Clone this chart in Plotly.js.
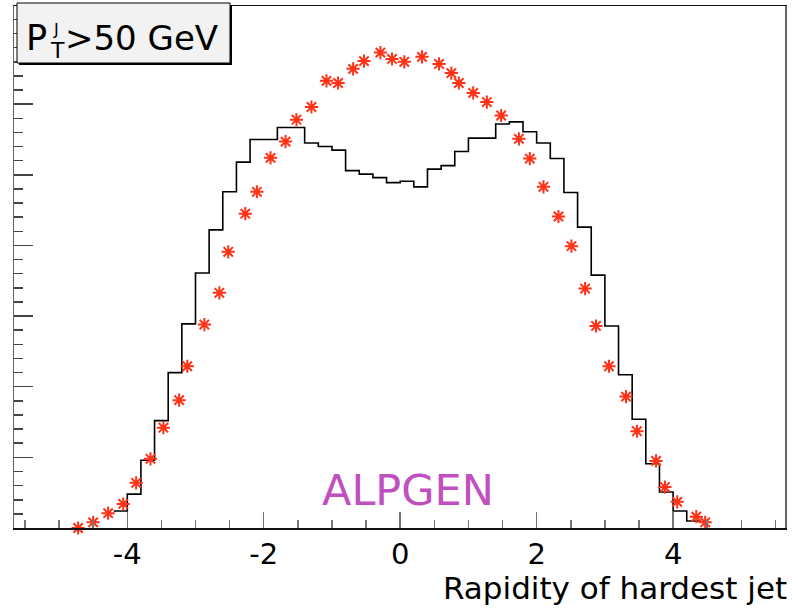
<!DOCTYPE html>
<html>
<head>
<meta charset="utf-8">
<script src="https://cdn.plot.ly/plotly-3.0.1.min.js"></script>
<style>html,body{margin:0;padding:0;background:#fff;}#chart{width:793px;height:609px;}</style>
</head>
<body>
<div id="chart"></div>
<script>
// Histogram (black): bin edges and bin contents
const binEdges = [-4.2,-4.0,-3.8,-3.6,-3.4,-3.2,-3.0,-2.8,-2.6,-2.4,-2.2,-2.0,-1.8,-1.6,-1.4,-1.2,-1.0,-0.8,-0.6,-0.4,-0.2,0.0,
                  0.2,0.4,0.6,0.8,1.0,1.2,1.4,1.6,1.8,2.0,2.2,2.4,2.6,2.8,3.0,3.2,3.4,3.6,3.8,4.0,4.2,4.4];
const histValues = [0.24,0.48,0.96,1.52,2.20,2.89,3.61,4.22,4.76,5.18,5.50,5.50,5.67,5.67,5.45,5.40,5.35,5.06,5.01,4.96,4.89,
                    4.91,4.83,5.08,5.13,5.33,5.52,5.52,5.72,5.75,5.61,5.45,5.23,4.75,4.26,3.58,2.86,2.17,1.54,0.91,0.51,0.24,0.10];

// Red star points
const starX = [-4.72,-4.50,-4.28,-4.06,-3.87,-3.66,-3.47,-3.24,-3.12,-2.87,-2.65,-2.52,-2.27,-2.10,-1.90,-1.68,-1.52,-1.30,
               -1.08,-0.91,-0.69,-0.53,-0.29,-0.12,0.06,0.32,0.57,0.75,0.86,1.07,1.27,1.48,1.74,1.90,2.10,2.32,2.51,2.71,
               2.87,3.06,3.31,3.47,3.75,3.88,4.06,4.34,4.47];
const starY = [0.00,0.08,0.21,0.34,0.64,0.98,1.42,1.81,2.29,2.88,3.33,3.91,4.45,4.76,5.24,5.47,5.78,5.96,
               6.33,6.30,6.50,6.61,6.73,6.64,6.60,6.67,6.57,6.44,6.30,6.16,6.03,5.84,5.51,5.23,4.83,4.41,3.99,3.39,
               2.86,2.29,1.86,1.37,0.95,0.58,0.37,0.16,0.08];

const xTickVals = [-4,-2,0,2,4];
const xTickText = ['-4','-2','0','2','4'];
const xTitle = 'Rapidity of hardest jet';
const generatorLabel = 'ALPGEN';

// build step line from histogram
const hx = [], hy = [];
for (let i = 0; i < histValues.length; i++) {
  hx.push(binEdges[i], binEdges[i+1]);
  hy.push(histValues[i], histValues[i]);
}

// pixel helpers for decorations (plot area: x 14..785, y 6..528)
const L = 14, W = 771, B = 528, H = 522;
const px = p => (p - L) / W;
const py = p => (B - p) / H;
const FONT = 'DejaVu Sans, Liberation Sans, Arial, sans-serif';

const traces = [
  {x: hx, y: hy, type: 'scatter', mode: 'lines',
   line: {color: '#000', width: 1.6}, hoverinfo: 'skip', showlegend: false},
  {x: starX, y: starY, type: 'scatter', mode: 'markers', cliponaxis: false,
   marker: {symbol: 'asterisk-open', size: 11, color: '#ff3218', line: {color: '#ff3218', width: 2}},
   showlegend: false}
];

const layout = {
  width: 793, height: 609,
  margin: {l: 14, r: 8, t: 6, b: 81, pad: 0},
  paper_bgcolor: '#fff', plot_bgcolor: '#fff',
  showlegend: false,
  font: {family: FONT, color: '#000'},
  xaxis: {
    range: [-5.66, 5.64], showgrid: false, zeroline: false,
    showline: true, linecolor: '#111', linewidth: 1.5, mirror: true,
    ticks: 'inside', ticklen: 16, tickwidth: 1.5, tickcolor: '#777',
    tickmode: 'array', tickvals: xTickVals, ticktext: xTickText,
    tickfont: {family: FONT, size: 29, color: '#000'},
    minor: {dtick: 0.5, tick0: 0, ticks: 'inside', ticklen: 8, tickwidth: 1.5, tickcolor: '#777', showgrid: false}
  },
  yaxis: {
    range: [0, 7.39], showgrid: false, zeroline: false,
    showline: true, linecolor: '#666', linewidth: 1.5, mirror: true,
    ticks: 'inside', ticklen: 19, tickwidth: 1.5, tickcolor: '#444',
    dtick: 1, tick0: 0, showticklabels: false,
    minor: {dtick: 0.2, tick0: 0, ticks: 'inside', ticklen: 9, tickwidth: 1.5, tickcolor: '#444', showgrid: false}
  },
  shapes: [
    {type: 'rect', xref: 'paper', yref: 'paper', x0: px(19), x1: px(232), y0: py(65), y1: py(5),
     fillcolor: '#000', line: {width: 0}, layer: 'above'},
    {type: 'rect', xref: 'paper', yref: 'paper', x0: px(17), x1: px(230), y0: py(63), y1: py(3),
     fillcolor: '#f2f2f2', line: {color: '#000', width: 1}, layer: 'above'}
  ],
  annotations: [
    {text: 'P', xref: 'paper', yref: 'paper', x: px(24), y: py(38), xanchor: 'left', yanchor: 'middle',
     showarrow: false, font: {family: FONT, size: 35, color: '#000'}},
    {text: 'J', xref: 'paper', yref: 'paper', x: px(56), y: py(29), xanchor: 'center', yanchor: 'middle',
     showarrow: false, font: {family: FONT, size: 16, color: '#000'}},
    {text: 'T', xref: 'paper', yref: 'paper', x: px(57), y: py(51), xanchor: 'center', yanchor: 'middle',
     showarrow: false, font: {family: FONT, size: 22, color: '#000'}},
    {text: '&gt;50 GeV', xref: 'paper', yref: 'paper', x: px(63), y: py(38), xanchor: 'left', yanchor: 'middle',
     showarrow: false, font: {family: FONT, size: 34, color: '#000'}},
    {text: generatorLabel, xref: 'paper', yref: 'paper', x: px(408), y: py(490), xanchor: 'center', yanchor: 'middle',
     showarrow: false, font: {family: FONT, size: 43, color: '#c04fc0'}},
    {text: xTitle, xref: 'paper', yref: 'paper', x: px(789), y: py(588), xanchor: 'right', yanchor: 'middle',
     showarrow: false, font: {family: FONT, size: 31, color: '#000'}}
  ]
};

Plotly.newPlot('chart', traces, layout, {displayModeBar: false, staticPlot: true});
</script>
</body>
</html>
